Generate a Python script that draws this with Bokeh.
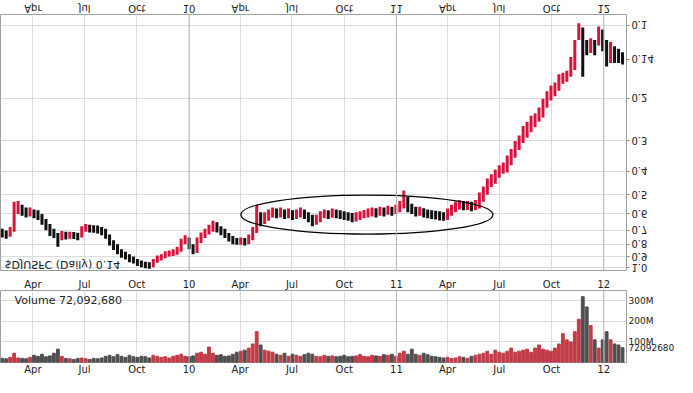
import pandas as pd
from bokeh.plotting import figure
from bokeh.layouts import column
from bokeh.models import (Range1d, FixedTicker, LinearAxis, Label, Span,
                          ColumnDataSource, PrintfTickFormatter)
from bokeh.embed import file_html
from bokeh.resources import INLINE

# ---------------- data (weekly) ----------------
first_week = "2009-02-06"
close = [0.718, 0.732, 0.705, 0.568, 0.558, 0.584, 0.595, 0.590, 0.601, 0.607,
         0.642, 0.666, 0.705, 0.718, 0.774, 0.732, 0.739, 0.732, 0.739, 0.746,
         0.698, 0.685, 0.692, 0.692, 0.698, 0.705, 0.739, 0.789, 0.812, 0.851,
         0.883, 0.900, 0.926, 0.934, 0.961, 0.970, 0.979, 0.989, 0.952, 0.917,
         0.909, 0.883, 0.875, 0.867, 0.851, 0.782, 0.760, 0.812, 0.851, 0.774,
         0.739, 0.718, 0.692, 0.666, 0.692, 0.705, 0.732, 0.753, 0.774, 0.782,
         0.774, 0.782, 0.753, 0.705, 0.607, 0.642, 0.624, 0.601, 0.590, 0.601,
         0.590, 0.607, 0.595, 0.612, 0.601, 0.590, 0.607, 0.624, 0.648, 0.636,
         0.607, 0.601, 0.607, 0.595, 0.601, 0.607, 0.612, 0.618, 0.624, 0.618,
         0.607, 0.601, 0.595, 0.590, 0.595, 0.584, 0.590, 0.579, 0.584, 0.574,
         0.558, 0.517, 0.563, 0.574, 0.590, 0.584, 0.595, 0.601, 0.607, 0.607,
         0.612, 0.618, 0.595, 0.574, 0.558, 0.547, 0.558, 0.552, 0.563, 0.552,
         0.517, 0.484, 0.449, 0.433, 0.409, 0.394, 0.387, 0.365, 0.339, 0.317,
         0.300, 0.273, 0.268, 0.251, 0.242, 0.233, 0.212, 0.198, 0.188, 0.181,
         0.166, 0.164, 0.161, 0.148, 0.126, 0.102, 0.121, 0.123, 0.121, 0.123,
         0.107, 0.115, 0.130, 0.129, 0.133, 0.134, 0.138]
high = [0.750, 0.760, 0.745, 0.710, 0.600, 0.610, 0.620, 0.615, 0.625, 0.635,
        0.665, 0.700, 0.740, 0.755, 0.820, 0.770, 0.765, 0.760, 0.762, 0.770,
        0.750, 0.710, 0.715, 0.718, 0.722, 0.735, 0.760, 0.810, 0.845, 0.880,
        0.910, 0.925, 0.950, 0.960, 0.985, 0.995, 1.005, 1.010, 0.995, 0.955,
        0.935, 0.915, 0.900, 0.895, 0.885, 0.860, 0.800, 0.840, 0.880, 0.870,
        0.790, 0.755, 0.730, 0.710, 0.715, 0.735, 0.755, 0.780, 0.800, 0.805,
        0.805, 0.810, 0.800, 0.770, 0.720, 0.675, 0.660, 0.640, 0.620, 0.625,
        0.620, 0.630, 0.625, 0.635, 0.630, 0.620, 0.630, 0.650, 0.675, 0.665,
        0.650, 0.625, 0.630, 0.622, 0.625, 0.630, 0.635, 0.640, 0.650, 0.645,
        0.635, 0.625, 0.620, 0.615, 0.620, 0.610, 0.615, 0.605, 0.610, 0.600,
        0.590, 0.570, 0.590, 0.600, 0.615, 0.610, 0.620, 0.625, 0.630, 0.632,
        0.638, 0.640, 0.635, 0.610, 0.590, 0.575, 0.580, 0.578, 0.585, 0.580,
        0.570, 0.535, 0.500, 0.465, 0.450, 0.425, 0.410, 0.405, 0.378, 0.352,
        0.327, 0.306, 0.291, 0.276, 0.263, 0.250, 0.240, 0.219, 0.204, 0.196,
        0.186, 0.174, 0.171, 0.163, 0.153, 0.115, 0.163, 0.133, 0.130, 0.133,
        0.121, 0.128, 0.148, 0.143, 0.143, 0.143, 0.145]
low = [0.690, 0.702, 0.680, 0.535, 0.530, 0.550, 0.565, 0.565, 0.575, 0.580,
       0.600, 0.630, 0.660, 0.690, 0.720, 0.705, 0.710, 0.710, 0.712, 0.718,
       0.675, 0.660, 0.665, 0.668, 0.670, 0.680, 0.690, 0.730, 0.770, 0.800,
       0.840, 0.860, 0.880, 0.900, 0.920, 0.935, 0.945, 0.950, 0.920, 0.890,
       0.880, 0.855, 0.850, 0.840, 0.820, 0.760, 0.735, 0.750, 0.800, 0.750,
       0.715, 0.690, 0.665, 0.640, 0.650, 0.675, 0.690, 0.720, 0.740, 0.755,
       0.750, 0.755, 0.730, 0.680, 0.550, 0.590, 0.590, 0.575, 0.565, 0.570,
       0.565, 0.575, 0.570, 0.580, 0.575, 0.565, 0.575, 0.590, 0.605, 0.605,
       0.585, 0.575, 0.580, 0.570, 0.575, 0.580, 0.585, 0.590, 0.595, 0.590,
       0.585, 0.578, 0.570, 0.565, 0.568, 0.560, 0.565, 0.555, 0.560, 0.550,
       0.530, 0.480, 0.510, 0.545, 0.560, 0.560, 0.568, 0.575, 0.580, 0.582,
       0.585, 0.590, 0.570, 0.550, 0.535, 0.525, 0.530, 0.530, 0.535, 0.525,
       0.490, 0.462, 0.428, 0.412, 0.393, 0.378, 0.368, 0.344, 0.324, 0.300,
       0.285, 0.260, 0.250, 0.236, 0.231, 0.218, 0.201, 0.187, 0.177, 0.172,
       0.159, 0.157, 0.154, 0.135, 0.115, 0.098, 0.102, 0.115, 0.113, 0.115,
       0.101, 0.104, 0.115, 0.117, 0.122, 0.125, 0.129]
volume_m = [20, 18, 25, 45, 22, 20, 18, 25,
            35, 30, 40, 28, 32, 45, 65, 30,
            20, 18, 15, 20, 22, 18, 15, 20, 18, 22,
            30, 35, 28, 38, 30, 25, 35, 28,
            25, 30, 28, 22, 35, 30, 25, 28, 22, 30, 35, 40, 30, 28, 32,
            45, 50, 40, 75, 45, 35, 38, 30, 32, 40, 50,
            55, 60, 70, 90, 150, 85, 60, 55, 50,
            40, 35, 45, 30, 40, 35, 30, 38, 45, 40, 30, 28, 35, 30, 32, 28, 30,
            35, 28, 30, 32, 38, 30, 28, 35, 32, 30, 38, 35, 40, 30,
            45, 55, 40, 65, 40, 35, 45, 38, 30, 28, 25,
            22, 25, 20, 22, 28, 25, 20, 30, 35, 40,
            45, 55, 40, 60, 50, 45, 55, 70, 50,
            55, 60, 65, 50, 70, 85, 65, 60, 55, 70, 90, 140,
            110, 100, 150, 210, 320, 270,
            180, 110, 70, 110, 150, 110, 90, 85, 72]

quarter_dates = ["2009-04-01", "2009-07-01", "2009-10-01", "2010-01-01",
                 "2010-04-01", "2010-07-01", "2010-10-01", "2011-01-01",
                 "2011-04-01", "2011-07-01", "2011-10-01", "2012-01-01"]
quarter_labels = ["Apr", "Jul", "Oct", "10", "Apr", "Jul", "Oct", "11",
                  "Apr", "Jul", "Oct", "12"]
year_dates = ["2010-01-01", "2011-01-01", "2012-01-01"]
price_ticks = [0.1, 0.2, 0.3, 0.4, 0.5, 0.6, 0.7, 0.8, 0.9, 1.0]
volume_ticks = [100e6, 200e6, 300e6]
volume_tick_labels = ["100M", "200M", "300M"]
symbol_text = "$DJUSFC (Daily) 0.14"
last_price = 0.138
last_price_text = "0.14"
last_volume = 72092680
range_start, range_end = "2009-02-03", "2012-02-10"
ellipse_center = ("2010-11-10", 0.604)

# ---------------- helpers ----------------
def ms(d):
    return float((pd.Timestamp(d) - pd.Timestamp("1970-01-01")) // pd.Timedelta("1ms"))

dates = pd.date_range(first_week, periods=len(close), freq="7D")
xs = [ms(d) for d in dates]
RED, BLACK = "#d8143c", "#111111"
VRED, VGRAY = "#c23b47", "#4f4f4f"
down = [False] + [close[i] < close[i - 1] for i in range(1, len(close))]
pcol = [RED if d else BLACK for d in down]
vcol = [VRED if d else VGRAY for d in down]

qticks = [ms(d) for d in quarter_dates]
qover = {t: l for t, l in zip(qticks, quarter_labels)}
FONT = "DejaVu Sans"
GRID = "#dcdcdc"
x_range = Range1d(ms(range_start), ms(range_end))
RB = 48

# ---------------- price panel (drawn upright, then flipped vertically) ----------------
p = figure(width=677, height=275, x_range=x_range, y_range=Range1d(0.0902, 1.027),
           y_axis_type="log", y_axis_location="right", output_backend="svg",
           toolbar_location=None, min_border_left=0, min_border_right=RB,
           min_border_top=4, min_border_bottom=12)
p.styles = {"transform": "scaleY(-1)"}
p.outline_line_color = "#a0a0a0"
p.background_fill_color = "white"
p.border_fill_color = "white"

# the last value is shown as an extra tick label on the price axis
p.xaxis.ticker = FixedTicker(ticks=qticks)
p.xaxis.major_label_overrides = qover
p.xgrid.ticker = FixedTicker(ticks=qticks)
p.yaxis.ticker = FixedTicker(ticks=price_ticks + [last_price])
p.yaxis.major_label_overrides = {last_price: last_price_text}
p.ygrid.ticker = FixedTicker(ticks=price_ticks)
p.yaxis.formatter = PrintfTickFormatter(format="%.1f")
for ax in (p.xaxis[0], p.yaxis[0]):
    ax.axis_line_color = None
    ax.major_tick_in = 0
    ax.minor_tick_in = 0
    ax.minor_tick_out = 0
    ax.axis_label_standoff = 0
    ax.major_label_text_font = FONT
    ax.major_label_text_font_size = "10px"
    ax.major_label_text_color = "#222222"
p.xaxis.major_tick_out = 0
p.xaxis.major_label_standoff = 1
p.yaxis.major_tick_out = 3
p.yaxis.major_tick_line_color = "#888888"
p.yaxis.major_label_standoff = 2
p.xgrid.grid_line_color = GRID
p.ygrid.grid_line_color = GRID
for d in year_dates:
    p.add_layout(Span(location=ms(d), dimension="height", line_color="#b8b8b8", line_width=1))

src = ColumnDataSource(dict(x=xs, hi=high, lo=low, c=pcol))
p.segment(x0="x", y0="lo", x1="x", y1="hi", color="c", line_width=3, source=src)

p.ellipse(x=ms(ellipse_center[0]), y=ellipse_center[1], width=252, height=39,
          width_units="screen", height_units="screen", fill_color=None,
          line_color="black", line_width=1.2)

p.add_layout(Label(x=ms(range_start), y=1.027, x_offset=4, text=symbol_text,
                   text_baseline="top", text_font=FONT, text_font_size="11px",
                   text_color="#222222"))

# ---------------- volume panel ----------------
v = figure(width=677, height=102, x_range=x_range, y_range=Range1d(0, 350e6),
           y_axis_location="right", output_backend="svg", toolbar_location=None,
           min_border_left=0, min_border_right=RB, min_border_top=12,
           min_border_bottom=0)
v.outline_line_color = "#a0a0a0"
v.add_layout(LinearAxis(), "above")
for ax in v.xaxis:
    ax.ticker = FixedTicker(ticks=qticks)
    ax.major_label_overrides = qover
for ax in list(v.xaxis) + list(v.yaxis):
    ax.axis_line_color = None
    ax.major_tick_in = 0
    ax.major_tick_out = 0
    ax.minor_tick_in = 0
    ax.minor_tick_out = 0
    ax.axis_label_standoff = 0
    ax.major_label_standoff = 1
    ax.major_label_text_font = FONT
    ax.major_label_text_font_size = "10px"
    ax.major_label_text_line_height = 1.0
    ax.major_label_text_color = "#222222"
# the last volume is shown as an extra tick label on the volume axis
v.yaxis.ticker = FixedTicker(ticks=[float(last_volume)] + volume_ticks)
v.yaxis.major_label_overrides = dict(
    [(float(last_volume), str(last_volume))] +
    [(t, l) for t, l in zip(volume_ticks, volume_tick_labels)])
v.yaxis.major_label_text_font_size = "9px"
v.yaxis.major_label_standoff = 2
v.xgrid.ticker = FixedTicker(ticks=qticks)
v.ygrid.ticker = FixedTicker(ticks=volume_ticks)
v.xgrid.grid_line_color = GRID
v.ygrid.grid_line_color = GRID
for d in year_dates:
    v.add_layout(Span(location=ms(d), dimension="height", line_color="#b8b8b8", line_width=1))

vsrc = ColumnDataSource(dict(x=xs, top=[m * 1e6 for m in volume_m], c=vcol))
v.vbar(x="x", top="top", bottom=0, width=5 * 86400000, color="c", source=vsrc)

v.add_layout(Label(x=ms(range_start), y=350e6, x_offset=14, y_offset=-3,
                   text="Volume {:,}".format(last_volume), text_baseline="top",
                   text_font=FONT, text_font_size="11px", text_color="#222222"))

layout = column(p, v, spacing=0)
open("out.html", "w").write(file_html(layout, INLINE))
